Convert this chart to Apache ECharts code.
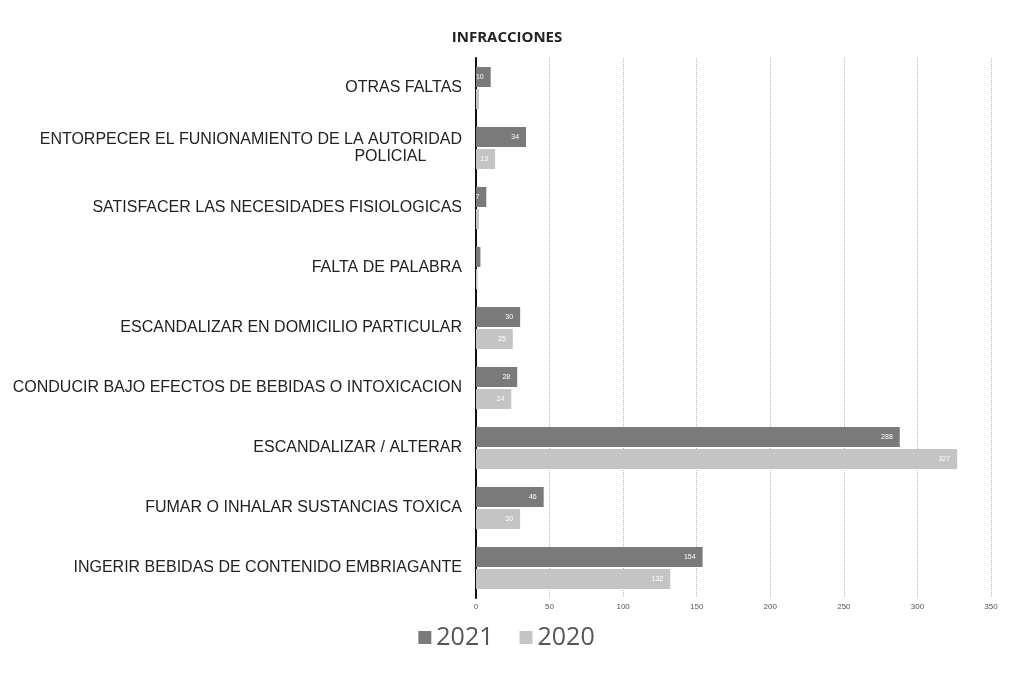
<!DOCTYPE html>
<html><head><meta charset="utf-8">
<script src="https://cdn.jsdelivr.net/npm/echarts@6/dist/echarts.min.js"></script>
<style>html,body{margin:0;padding:0;background:#fff}#c{width:1013px;height:677px}</style>
</head><body><div id="c"></div>
<script>
const categories = [
  "OTRAS FALTAS",
  "ENTORPECER EL FUNIONAMIENTO DE LA AUTORIDAD\nPOLICIAL        ",
  "SATISFACER LAS NECESIDADES FISIOLOGICAS",
  "FALTA DE PALABRA",
  "ESCANDALIZAR EN DOMICILIO PARTICULAR",
  "CONDUCIR BAJO EFECTOS DE BEBIDAS O INTOXICACION",
  "ESCANDALIZAR / ALTERAR",
  "FUMAR O INHALAR SUSTANCIAS TOXICA",
  "INGERIR BEBIDAS DE CONTENIDO EMBRIAGANTE"
];
const values2021 = [10, 34, 7, 3, 30, 28, 288, 46, 154];
const values2020 = [2, 13, 2, 1, 25, 24, 327, 30, 132];
const xTicks = [0, 50, 100, 150, 200, 250, 300, 350];

const chart = echarts.init(document.getElementById('c'));
const lbl = {show: true, position: 'insideRight', color: '#fff', fontSize: 7, fontFamily: 'Liberation Sans', offset: [-2, 0]};
chart.setOption({
  backgroundColor: '#fff',
  animation: false,
  title: {text: 'INFRACCIONES', left: 502, top: 25, textAlign: 'center',
    textStyle: {fontFamily: 'Open Sans', fontWeight: 'bold', fontSize: 15, color: '#222'}},
  legend: {bottom: 22, left: 'center', itemWidth: 13, itemHeight: 13, itemGap: 26, icon: 'rect',
    textStyle: {fontFamily: 'Open Sans', fontSize: 25, color: '#555'},
    data: ['2021', '2020']},
  grid: {left: 476, right: 22, top: 58, bottom: 79, containLabel: false},
  xAxis: {type: 'value', min: xTicks[0], max: xTicks[xTicks.length - 1], interval: 50,
    axisLine: {show: false}, axisTick: {show: false},
    axisLabel: {fontSize: 8, color: '#555', fontFamily: 'Liberation Sans', margin: 5},
    splitLine: {show: true, lineStyle: {type: 'dotted', color: '#bbb'}}},
  yAxis: {type: 'category', data: categories, inverse: true,
    axisLine: {show: true, lineStyle: {color: '#111', width: 2}},
    axisTick: {show: false},
    axisLabel: {fontSize: 16, color: '#222', fontFamily: 'Liberation Sans', margin: 14, align: 'right', lineHeight: 17}},
  series: [
    {name: '2021', type: 'bar', data: values2021, barWidth: 20, barGap: '10%',
      itemStyle: {color: '#7a7a7a'}, label: lbl},
    {name: '2020', type: 'bar', data: values2020, barWidth: 20,
      itemStyle: {color: '#c4c4c4'}, label: lbl}
  ]
});
</script></body></html>
